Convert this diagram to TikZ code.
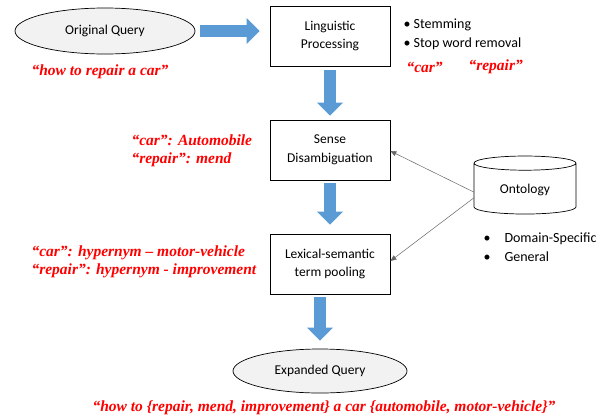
\documentclass[tikz,border=0pt]{standalone}
\usepackage{fontspec}
\setmainfont{Carlito}
\newfontfamily\redfont{Liberation Serif}
\usepackage{tikz}
\usetikzlibrary{shapes.geometric,arrows.meta}
\definecolor{arrowblue}{HTML}{5B9BD5}
\definecolor{ellgray}{HTML}{F2F2F2}

\tikzset{
  qnode/.style={draw, ellipse, fill=ellgray, line width=0.7pt,
    minimum width=180pt, minimum height=46pt, font=\fontsize{13.5}{16}\selectfont},
  procbox/.style={draw, line width=0.8pt, align=center, minimum width=120pt,
    minimum height=60pt, font=\fontsize{13.5}{18.5}\selectfont},
  onto/.style={draw, cylinder, shape border rotate=90, aspect=0.25, line width=0.7pt,
    minimum width=102pt, minimum height=58pt, font=\fontsize{13.5}{16}\selectfont},
  note/.style={text=red, align=left, font=\redfont\bfseries\itshape\fontsize{15.5}{18}\selectfont},
  bullets/.style={align=left, font=\fontsize{14}{19}\selectfont},
  bigarrow/.style={line width=12pt, arrowblue, -{Triangle[width=25pt,length=13pt]}},
  thinarrow/.style={draw=gray!80!black, line width=0.5pt, -{Triangle[width=5pt,length=6pt]}}
}

\begin{document}
\begin{tikzpicture}[x=1pt, y=-1pt]
  \useasboundingbox (0,0) rectangle (605,416);

  \node[qnode] (origQuery) at (105, 31) {Original Query};
  \node[procbox] (lingProc) at (330, 36) {Linguistic\\Processing};
  \node[procbox] (senseDis) at (330, 150) {Sense\\Disambiguation};
  \node[procbox] (termPool) at (330, 264) {Lexical-semantic\\term pooling};
  \node[qnode, minimum width=174pt, minimum height=44pt] (expQuery) at (320, 371) {Expanded Query};
  \node[onto] (ontology) at (525, 190) {Ontology};

  \node[bullets, anchor=west] (lingSteps) at (400, 34)
    {\textbullet\ Stemming\\ \textbullet\ Stop word removal};
  \node[bullets, anchor=west] (ontoKinds) at (480, 247)
    {\textbullet\hskip 14pt Domain-Specific\\ \textbullet\hskip 14pt General};

  \node[note, anchor=west] (origText) at (28, 72) {“how to repair a car”};
  \node[note, anchor=west] (stemCar) at (403, 67) {“car”};
  \node[note, anchor=west] (stemRepair) at (465, 67) {“repair”};
  \node[note, anchor=west] (senseText) at (128, 151)
    {“car”: Automobile\\“repair”: mend};
  \node[note, anchor=west] (poolText) at (28, 262)
    {“car”: hypernym – motor-vehicle\\“repair”: hypernym - improvement};
  \node[note] (expText) at (324, 408)
    {“how to \{repair, mend, improvement\} a car \{automobile, motor-vehicle\}”};

  \draw[bigarrow, shorten <=5pt, shorten >=10pt]
    (origQuery.east) -- (origQuery.east -| lingProc.west);
  \draw[bigarrow, shorten <=4pt, shorten >=4pt] (lingProc.south) -- (senseDis.north);
  \draw[bigarrow, shorten <=3pt, shorten >=9pt] (senseDis.south) -- (termPool.north);
  \draw[bigarrow, shorten <=3pt, shorten >=8pt]
    (termPool.south -| expQuery.north) -- (expQuery.north);

  \draw[thinarrow] ([yshift=-2pt]ontology.west) -- ([yshift=-1pt]senseDis.east);
  \draw[thinarrow] ([yshift=-8pt]ontology.west) -- ([yshift=3pt]termPool.east);
\end{tikzpicture}
\end{document}
